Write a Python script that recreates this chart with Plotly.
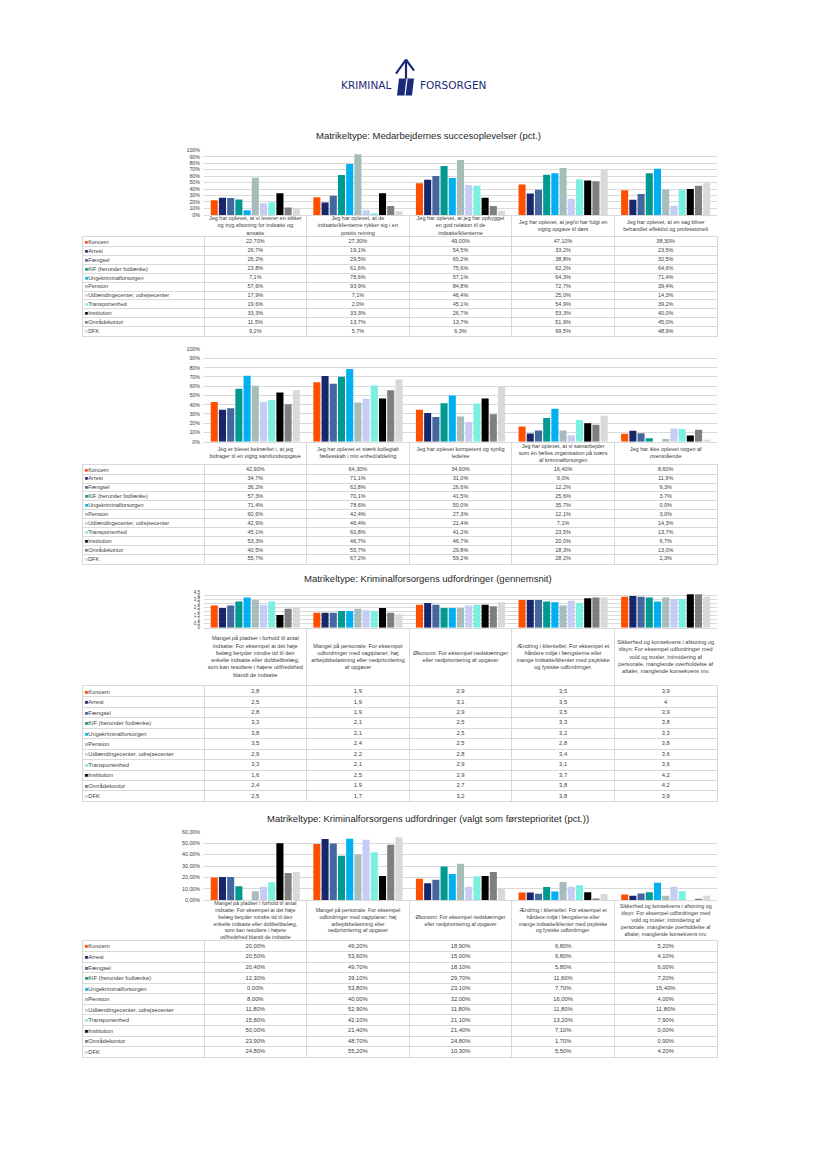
import plotly.graph_objects as go

W, H = 827, 1169

series = ["Koncern", "Arrest", "Fængsel", "KiF (herunder fodlænke)", "Ungekriminalforsorgen",
          "Pension", "Udlændingecenter, udrejsecenter", "Transportenhed", "Institution",
          "Områdekontor", "DFK"]
colors = ["#FF5000", "#18276B", "#44679F", "#009A93", "#00B0F0", "#A6BDBB",
          "#C6CDF5", "#7BF0E0", "#000000", "#7F7F7F", "#D9D9D9"]

# ---------------- chart 1 ----------------
c1_title = "Matrikeltype: Medarbejdernes succesoplevelser (pct.)"
c1_categories = [
    "Jeg har oplevet, at vi leverer en sikker<br>og tryg afsoning for indsatte og<br>ansatte",
    "Jeg har oplevet, at de<br>indsatte/klienterne rykker sig i en<br>positiv retning",
    "Jeg har oplevet, at jeg har opbygget<br>en god relation til de<br>indsatte/klienterne",
    "Jeg har oplevet, at jeg/vi har fulgt en<br>vigtig opgave til dørs",
    "Jeg har oplevet, at en sag bliver<br>behandlet effektivt og professionelt",
]
c1_values = [
    [22.7, 27.3, 49.0, 47.1, 38.3],
    [26.7, 19.1, 54.5, 33.2, 23.5],
    [26.2, 29.5, 60.2, 38.8, 32.5],
    [23.8, 61.6, 75.6, 62.2, 64.6],
    [7.1, 78.6, 57.1, 64.3, 71.4],
    [57.6, 93.9, 84.8, 72.7, 39.4],
    [17.9, 7.1, 46.4, 25.0, 14.3],
    [19.6, 2.0, 45.1, 54.9, 39.2],
    [33.3, 33.3, 26.7, 53.3, 40.0],
    [11.5, 13.7, 13.7, 51.9, 45.0],
    [9.2, 5.7, 6.3, 69.5, 48.9],
]

# ---------------- chart 2 ----------------
c2_categories = [
    "Jeg er blevet bekræftet i, at jeg<br>bidrager til en vigtig samfundsopgave",
    "Jeg har oplevet et stærk kollegialt<br>fællesskab i min enhed/afdeling",
    "Jeg har oplevet kompetent og synlig<br>ledelse",
    "Jeg har oplevet, at vi samarbejder<br>som én fælles organisation på tværs<br>af kriminalforsorgen",
    "Jeg har ikke oplevet nogen af<br>ovenstående",
]
c2_values = [
    [42.9, 64.3, 34.6, 16.4, 8.6],
    [34.7, 71.1, 31.0, 9.0, 11.9],
    [36.2, 62.8, 26.6, 12.2, 9.3],
    [57.3, 70.1, 41.5, 25.6, 3.7],
    [71.4, 78.6, 50.0, 35.7, 0.0],
    [60.6, 42.4, 27.3, 12.1, 3.0],
    [42.9, 46.4, 21.4, 7.1, 14.3],
    [45.1, 60.8, 41.2, 23.5, 13.7],
    [53.3, 46.7, 46.7, 20.0, 6.7],
    [40.5, 55.7, 29.8, 18.3, 13.0],
    [55.7, 67.2, 59.2, 28.2, 2.3],
]

# ---------------- chart 3 ----------------
c3_title = "Matrikeltype: Kriminalforsorgens udfordringer (gennemsnit)"
c3_categories = [
    "Mangel på pladser i forhold til antal<br>indsatte: For eksempel at det høje<br>belæg betyder mindre tid til den<br>enkelte indsatte eller dobbeltbelæg,<br>som kan resultere i højere utilfredshed<br>blandt de indsatte",
    "Mangel på personale: For eksempel<br>udfordringer med vagtplaner; høj<br>arbejdsbelastning eller nedprioritering<br>af opgaver",
    "Økonomi: For eksempel nedskæringer<br>eller nedprioritering af opgaver",
    "Ændring i klientellet: For eksempel et<br>hårdere miljø i fængslerne eller<br>mange indsatte/klienter med psykiske<br>og fysiske udfordringer.",
    "Sikkerhed og konsekvens i afsoning og<br>tilsyn: For eksempel udfordringer med<br>vold og trusler, intimidering af<br>personale, manglende overholdelse af<br>aftaler, manglende konsekvens mv.",
]
c3_values = [
    [2.8, 1.9, 2.9, 3.5, 3.9],
    [2.5, 1.9, 3.1, 3.5, 4.0],
    [2.8, 1.9, 2.9, 3.5, 3.9],
    [3.3, 2.1, 2.5, 3.3, 3.8],
    [3.8, 2.1, 2.5, 3.2, 3.3],
    [3.5, 2.4, 2.5, 2.8, 3.8],
    [2.9, 2.2, 2.8, 3.4, 3.6],
    [3.3, 2.1, 2.9, 3.1, 3.6],
    [1.6, 2.5, 2.9, 3.7, 4.2],
    [2.4, 1.9, 2.7, 3.8, 4.2],
    [2.5, 1.7, 3.2, 3.8, 3.9],
]

# ---------------- chart 4 ----------------
c4_title = "Matrikeltype: Kriminalforsorgens udfordringer (valgt som førsteprioritet (pct.))"
c4_categories = [
    "Mangel på pladser i forhold til antal<br>indsatte: For eksempel at det høje<br>belæg betyder mindre tid til den<br>enkelte indsatte eller dobbeltbelæg,<br>som kan resultere i højere<br>utilfredshed blandt de indsatte",
    "Mangel på personale: For eksempel<br>udfordringer med vagtplaner; høj<br>arbejdsbelastning eller<br>nedprioritering af opgaver",
    "Økonomi: For eksempel nedskæringer<br>eller nedprioritering af opgaver",
    "Ændring i klientellet: For eksempel et<br>hårdere miljø i fængslerne eller<br>mange indsatte/klienter med psykiske<br>og fysiske udfordringer.",
    "Sikkerhed og konsekvens i afsoning og<br>tilsyn: For eksempel udfordringer med<br>vold og trusler, intimidering af<br>personale, manglende overholdelse af<br>aftaler, manglende konsekvens mv.",
]
c4_values = [
    [20.00, 49.20, 18.90, 6.80, 5.20],
    [20.50, 53.60, 15.00, 6.80, 4.10],
    [20.40, 49.70, 18.10, 5.80, 6.00],
    [12.30, 39.10, 29.70, 11.60, 7.20],
    [0.00, 53.80, 23.10, 7.70, 15.40],
    [8.00, 40.00, 32.00, 16.00, 4.00],
    [11.80, 52.90, 11.80, 11.80, 11.80],
    [15.80, 42.10, 21.10, 13.20, 7.90],
    [50.00, 21.40, 21.40, 7.10, 0.00],
    [23.90, 48.70, 24.80, 1.70, 0.90],
    [24.80, 55.20, 10.30, 5.50, 4.20],
]


def fmt_pct_mixed(v, i):
    d = 2 if i == 0 else 1
    return f"{v:.{d}f}".replace(".", ",") + "%"


def fmt_avg(v, i):
    return f"{v:g}".replace(".", ",")


def fmt_pct2(v, i):
    return f"{v:.2f}".replace(".", ",") + "%"


charts = [
    dict(title=c1_title, cats=c1_categories, vals=c1_values, fmt=fmt_pct_mixed,
         yr=[0, 100], dtick=10, tickformat="d", suffix="%", fs=5.5, hfs=5.5, tfs=5.3,
         title_y=133, ptop=148, pbot=213, htop=213, hbot=235.5, rh=9.0),
    dict(title=None, cats=c2_categories, vals=c2_values, fmt=fmt_pct_mixed,
         yr=[0, 100], dtick=10, tickformat="d", suffix="%", fs=5.5, hfs=5.5, tfs=5.3,
         title_y=None, ptop=348, pbot=441, htop=441, hbot=464.5, rh=9.0),
    dict(title=c3_title, cats=c3_categories, vals=c3_values, fmt=fmt_avg,
         yr=[0, 4.5], dtick=0.5, tickformat="", suffix="", fs=5.8, hfs=5.6, tfs=4.5,
         title_y=578, ptop=592, pbot=628, htop=628, hbot=687, rh=10.5),
    dict(title=c4_title, cats=c4_categories, vals=c4_values, fmt=fmt_pct2,
         yr=[0, 60], dtick=10, tickformat=".2f", suffix="%", fs=5.8, hfs=5.3, tfs=5.3,
         title_y=820, ptop=833, pbot=902, htop=902, hbot=943, rh=10.6),
]

X_PLOT0, X_PLOT1 = 204, 717
X_TAB0 = 83
COLW = (X_PLOT1 - X_PLOT0) / 5.0
GRID = "#D9D9D9"
TXT = "#404040"
FONT = "Liberation Sans, Arial, sans-serif"


def fx(p):
    return p / W


def fy(p):
    return 1 - p / H


def axname(kind, n):
    return f"{kind}axis" if n == 1 else f"{kind}axis{n}"


def axref(kind, n):
    return kind if n == 1 else f"{kind}{n}"


fig = go.Figure()
layout = dict(
    width=W, height=H, margin=dict(l=0, r=0, t=0, b=0),
    paper_bgcolor="white", plot_bgcolor="white", showlegend=False,
    barmode="group", bargap=0.12, bargroupgap=0.14, separators=",.",
    font=dict(family=FONT, size=6, color=TXT),
)
annotations = []

for k, ch in enumerate(charts):
    nb, nh, nr = 3 * k + 1, 3 * k + 2, 3 * k + 3
    plain = [c.replace("<br>", " ") for c in ch["cats"]]
    # bars
    for i, s in enumerate(series):
        fig.add_trace(go.Bar(x=plain, y=ch["vals"][i], name=s, marker_color=colors[i],
                             marker_line_width=0, xaxis=axref("x", nb), yaxis=axref("y", nb)))
    layout[axname("x", nb)] = dict(
        domain=[fx(X_PLOT0), fx(X_PLOT1)], anchor=axref("y", nb), type="category",
        categoryarray=plain, range=[-0.5, 4.5], showticklabels=False, ticks="",
        showgrid=False, showline=True, linecolor=GRID, linewidth=0.8, zeroline=False)
    layout[axname("y", nb)] = dict(
        domain=[fy(ch["pbot"]), fy(ch["ptop"])], anchor=axref("x", nb), range=ch["yr"],
        tickmode="linear", dtick=ch["dtick"], tick0=0, tickformat=ch["tickformat"],
        ticksuffix=ch["suffix"], ticklabelstandoff=3,
        showgrid=True, gridcolor=GRID, gridwidth=0.8, zeroline=False, ticks="",
        tickfont=dict(size=ch["tfs"], color=TXT), showline=False)

    # header (category labels)
    idx = list(range(len(ch["cats"])))
    fig.add_trace(go.Scatter(x=idx, y=[0.5] * len(idx), text=ch["cats"], mode="text",
                             textposition="middle center",
                             textfont=dict(size=ch["hfs"], color=TXT, family=FONT),
                             hoverinfo="skip", xaxis=axref("x", nh), yaxis=axref("y", nh)))
    bounds = [j - 0.5 for j in range(len(idx) + 1)]
    layout[axname("x", nh)] = dict(
        domain=[fx(X_PLOT0), fx(X_PLOT1)], anchor=axref("y", nh), range=[-0.5, 4.5],
        tickmode="array", tickvals=bounds, showticklabels=False, ticks="",
        showgrid=True, gridcolor=GRID, gridwidth=0.8, zeroline=False)
    layout[axname("y", nh)] = dict(
        domain=[fy(ch["hbot"]), fy(ch["htop"])], anchor=axref("x", nh), range=[0, 1],
        showticklabels=False, showgrid=False, zeroline=False, ticks="")

    # rows (data table)
    n = len(series)
    rbot = ch["hbot"] + n * ch["rh"]
    xs, ys, ts = [], [], []
    for i in range(n):
        for j in idx:
            xs.append(j)
            ys.append(i)
            ts.append(ch["fmt"](ch["vals"][i][j], i))
    fig.add_trace(go.Scatter(x=xs, y=ys, text=ts, mode="text", textposition="middle center",
                             textfont=dict(size=ch["fs"], color=TXT, family=FONT),
                             hoverinfo="skip", xaxis=axref("x", nr), yaxis=axref("y", nr)))
    left_units = (X_PLOT0 - X_TAB0) / COLW
    labels = [f'<span style="color:{colors[i]}">■</span>{s}' for i, s in enumerate(series)]
    layout[axname("x", nr)] = dict(
        domain=[fx(X_TAB0), fx(X_PLOT1)], anchor=axref("y", nr),
        range=[-0.5 - left_units, 4.5], tickmode="array", tickvals=bounds,
        showticklabels=False, ticks="", showgrid=True, gridcolor=GRID, gridwidth=0.8,
        zeroline=False, showline=True, mirror=True, linecolor=GRID, linewidth=0.8)
    layout[axname("y", nr)] = dict(
        domain=[fy(rbot), fy(ch["hbot"])], anchor=axref("x", nr),
        range=[n - 0.5, -0.5], tickmode="array", tickvals=list(range(n)), ticktext=labels,
        ticklabelposition="inside", ticks="", showgrid=False, zeroline=False,
        tickfont=dict(size=ch["fs"], color=TXT),
        minor=dict(tickmode="array", tickvals=[i - 0.5 for i in range(n + 1)],
                   showgrid=True, gridcolor=GRID, gridwidth=0.8, ticks=""),
        showline=True, mirror=True, linecolor=GRID, linewidth=0.8)

    if ch["title"]:
        annotations.append(dict(text=ch["title"], x=fx(428), y=fy(ch["title_y"]),
                                xref="paper", yref="paper", showarrow=False,
                                xanchor="center", yanchor="middle",
                                font=dict(size=9.5, color="#262626", family=FONT)))

# logo
NAVY = "#1B2A78"
annotations.append(dict(text="KRIMINAL", x=fx(393), y=fy(82), xref="paper", yref="paper",
                        showarrow=False, xanchor="right", yanchor="middle",
                        font=dict(size=10.5, color=NAVY, family="DejaVu Sans, sans-serif")))
annotations.append(dict(text="FORSORGEN", x=fx(418), y=fy(82), xref="paper", yref="paper",
                        showarrow=False, xanchor="left", yanchor="middle",
                        font=dict(size=10.5, color=NAVY, family="DejaVu Sans, sans-serif")))
shapes = [
    dict(type="path", xref="paper", yref="paper",
         path=f"M {fx(397)} {fy(93)} L {fx(399)} {fy(76)} L {fx(414)} {fy(76)} L {fx(412)} {fy(93)} Z",
         fillcolor=NAVY, line=dict(width=0)),
    dict(type="line", xref="paper", yref="paper", x0=fx(407), y0=fy(76), x1=fx(405), y1=fy(93),
         line=dict(color="white", width=1.2)),
    dict(type="line", xref="paper", yref="paper", x0=fx(406), y0=fy(76), x1=fx(406), y1=fy(57),
         line=dict(color=NAVY, width=2.2)),
    dict(type="line", xref="paper", yref="paper", x0=fx(406), y0=fy(57), x1=fx(396), y1=fy(71),
         line=dict(color=NAVY, width=2.2)),
    dict(type="line", xref="paper", yref="paper", x0=fx(406), y0=fy(57), x1=fx(414), y1=fy(68),
         line=dict(color=NAVY, width=2.2)),
]
layout["annotations"] = annotations
layout["shapes"] = shapes
fig.update_layout(**layout)
fig.write_html("out.html", config={"displayModeBar": False},
               post_script="document.body.style.margin='0';")
